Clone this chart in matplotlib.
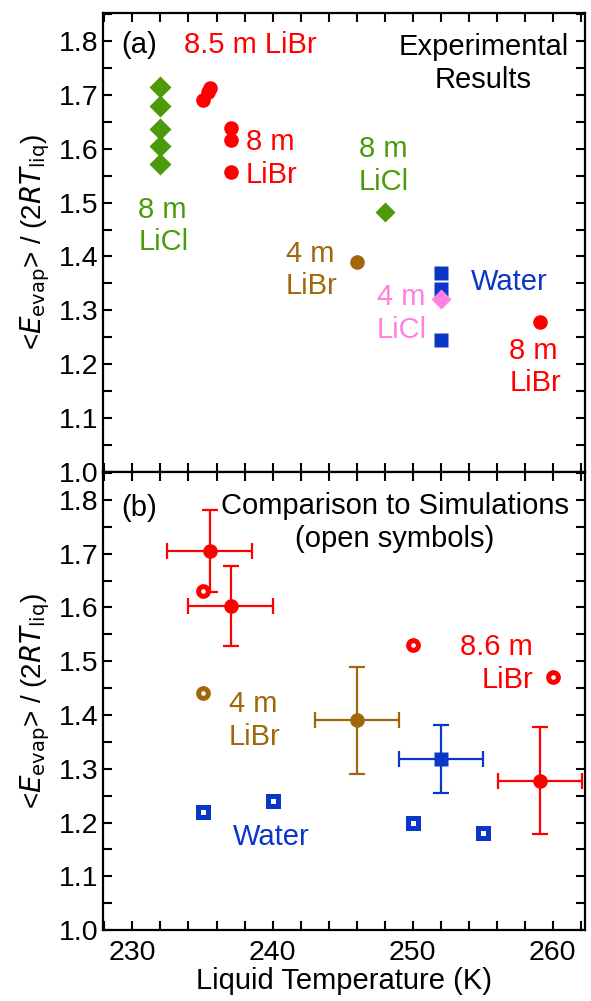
import numpy as np
import matplotlib
matplotlib.use("Agg")
import matplotlib.pyplot as plt
from matplotlib.ticker import MultipleLocator

plt.rcParams['font.family'] = ['Liberation Sans', 'DejaVu Sans']
plt.rcParams['mathtext.fontset'] = 'custom'
plt.rcParams['mathtext.rm'] = 'Liberation Sans Narrow'
plt.rcParams['mathtext.it'] = 'Liberation Sans Narrow:italic'

RED = '#ff0000'
GREEN = '#4c9a0a'
BROWN = '#a0660a'
BLUE = '#0a37c8'
PINK = '#ff80e0'

# (a) experimental results
licl8_T = [232, 232, 232, 232, 232]
licl8_E = [1.715, 1.680, 1.637, 1.605, 1.572]
libr85_T = [235.0, 235.4, 235.5]
libr85_E = [1.690, 1.705, 1.712]
libr8_T = [237, 237, 237, 259.1]
libr8_E = [1.638, 1.616, 1.557, 1.278]
licl8b_T = [248.0]
licl8b_E = [1.483]
libr4_T = [246.0]
libr4_E = [1.390]
water_T = [252, 252, 252]
water_E = [1.370, 1.339, 1.245]
licl4_T = [252]
licl4_E = [1.321]

# (b) averaged experiment with error bars
exp_libr_T = [235.5, 237.0, 259.1]
exp_libr_E = [1.705, 1.603, 1.278]
exp_libr_dT = [3, 3, 3]
exp_libr_dE = [0.076, 0.075, 0.100]
exp_libr4_T = [246.0]
exp_libr4_E = [1.390]
exp_libr4_dE = [0.100]
exp_water_T = [252.0]
exp_water_E = [1.318]
exp_water_dE = [0.064]

# simulations (open symbols)
sim_libr_T = [235, 250, 260]
sim_libr_E = [1.630, 1.530, 1.470]
sim_libr4_T = [235]
sim_libr4_E = [1.440]
sim_water_T = [235, 240, 250, 255]
sim_water_E = [1.220, 1.240, 1.200, 1.180]

fig = plt.figure(figsize=(5.91, 10.01), dpi=100)
ax1 = fig.add_axes([0.1743, 0.5285, 0.8157, 0.4585])
ax2 = fig.add_axes([0.1743, 0.0709, 0.8157, 0.4576])

fs = 21
ls = 1.22
ylab = r'<$\mathit{E}_\mathrm{evap}$> / (2$\mathit{RT}_\mathrm{liq}$)'
for ax in (ax1, ax2):
    ax.set_xlim(227.9, 262.3)
    ax.set_ylim(1.0, 1.852)
    ax.xaxis.set_major_locator(MultipleLocator(10))
    ax.xaxis.set_minor_locator(MultipleLocator(2))
    ax.yaxis.set_major_locator(MultipleLocator(0.1))
    ax.yaxis.set_minor_locator(MultipleLocator(0.05))
    ax.tick_params(which='both', direction='in', top=True, right=True,
                   width=1.5, length=6.5, labelsize=20.5)
    ax.tick_params(axis='x', pad=7)
    for s in ax.spines.values():
        s.set_linewidth(1.6)
    ax.set_ylabel(ylab, fontsize=20, family=['Liberation Sans Narrow', 'Liberation Sans'], labelpad=5)
ax1.tick_params(labelbottom=False)
ax1.set_yticks([1.0, 1.1, 1.2, 1.3, 1.4, 1.5, 1.6, 1.7, 1.8])
ax1.set_yticklabels(['1.0', '1.1', '1.2', '1.3', '1.4', '1.5', '1.6', '1.7', '1.8'])
ax2.set_xlabel('Liquid Temperature (K)', fontsize=fs, labelpad=1)

# panel (a)
ax1.plot(licl8_T, licl8_E, 'D', color=GREEN, ms=11, mec='none')
ax1.plot(libr85_T, libr85_E, 'o', color=RED, ms=10.5, mec='none')
ax1.plot(libr8_T, libr8_E, 'o', color=RED, ms=10.5, mec='none')
ax1.plot(licl8b_T, licl8b_E, 'D', color=GREEN, ms=10.5, mec='none')
ax1.plot(libr4_T, libr4_E, 'o', color=BROWN, ms=10.5, mec='none')
ax1.plot(water_T, water_E, 's', color=BLUE, ms=10, mec='none')
ax1.plot(licl4_T, licl4_E, 'D', color=PINK, ms=10.5, mec='none')

ax1.text(0.037, 0.930, '(a)', transform=ax1.transAxes, fontsize=fs, va='center')
ax1.text(0.168, 0.930, '8.5 m LiBr', transform=ax1.transAxes, fontsize=fs, color=RED, va='center')
ax1.text(0.789, 0.890, 'Experimental\nResults', transform=ax1.transAxes, fontsize=fs,
         ha='center', va='center', linespacing=ls)
ax1.text(0.296, 0.683, '8 m\nLiBr', transform=ax1.transAxes, fontsize=fs, color=RED,
         va='center', linespacing=ls)
ax1.text(0.073, 0.536, '8 m\nLiCl', transform=ax1.transAxes, fontsize=fs, color=GREEN,
         va='center', linespacing=ls)
ax1.text(0.531, 0.668, '8 m\nLiCl', transform=ax1.transAxes, fontsize=fs, color=GREEN,
         va='center', linespacing=ls)
ax1.text(0.379, 0.440, '4 m\nLiBr', transform=ax1.transAxes, fontsize=fs, color=BROWN,
         va='center', linespacing=ls)
ax1.text(0.763, 0.4146, 'Water', transform=ax1.transAxes, fontsize=fs, color=BLUE, va='center')
ax1.text(0.568, 0.3457, '4 m\nLiCl', transform=ax1.transAxes, fontsize=fs, color=PINK,
         va='center', linespacing=ls)
ax1.text(0.843, 0.2288, '8 m\nLiBr', transform=ax1.transAxes, fontsize=fs, color=RED,
         va='center', linespacing=ls)

# panel (b)
ekw = dict(elinewidth=1.6, capsize=5.5, capthick=1.6, mec='none', ls='none')
ax2.errorbar(exp_libr_T, exp_libr_E, xerr=exp_libr_dT, yerr=exp_libr_dE, fmt='o',
             color=RED, ms=10.5, **ekw)
ax2.errorbar(exp_libr4_T, exp_libr4_E, xerr=3, yerr=exp_libr4_dE, fmt='o',
             color=BROWN, ms=10.5, **ekw)
ax2.errorbar(exp_water_T, exp_water_E, xerr=3, yerr=exp_water_dE, fmt='s',
             color=BLUE, ms=10, **ekw)

okw = dict(ls='none', mfc='white', mew=3.6)
ax2.plot(sim_libr_T, sim_libr_E, 'o', mec=RED, ms=7, **okw)
ax2.plot(sim_libr4_T, sim_libr4_E, 'o', mec=BROWN, ms=7, **okw)
ax2.plot(sim_water_T, sim_water_E, 's', mec=BLUE, ms=6.5, **okw)

ax2.text(0.037, 0.921, '(b)', transform=ax2.transAxes, fontsize=fs, va='center')
ax2.text(0.605, 0.8897, 'Comparison to Simulations\n(open symbols)', transform=ax2.transAxes,
         fontsize=fs, ha='center', va='center', linespacing=ls)
ax2.text(0.261, 0.458, '4 m\nLiBr', transform=ax2.transAxes, fontsize=fs, color=BROWN,
         va='center', linespacing=ls)
ax2.text(0.270, 0.2037, 'Water', transform=ax2.transAxes, fontsize=fs, color=BLUE, va='center')
ax2.text(0.892, 0.581, '8.6 m\nLiBr', transform=ax2.transAxes, fontsize=fs, color=RED,
         ha='right', va='center', linespacing=ls)

fig.savefig('out.png', dpi=100)
